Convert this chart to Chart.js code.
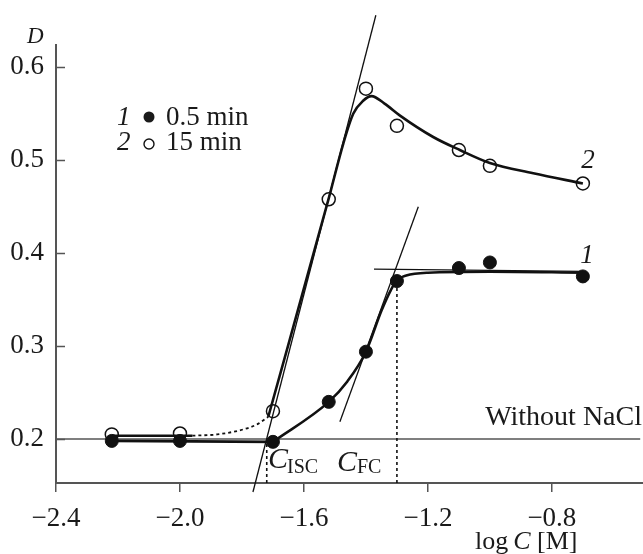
<!DOCTYPE html>
<html>
<head>
<meta charset="utf-8">
<script src="https://cdn.jsdelivr.net/npm/chart.js@4.4.1/dist/chart.umd.min.js"></script>
<style>
    html, body { margin: 0; padding: 0; background: #fff; overflow: hidden; }
    #wrap { width: 643px; height: 554px; position: relative; }
    #grafico { display: block; }
</style>
</head>
<body>
<div id="wrap"><canvas id="grafico"></canvas></div>
<script>
// measured points
const logC = [-2.22, -2.0, -1.7, -1.52, -1.4, -1.3, -1.1, -1.0, -0.7];
const d05min = [0.198, 0.198, 0.197, 0.240, 0.294, 0.370, 0.384, 0.390, 0.375];
const d15min = [0.205, 0.206, 0.230, 0.458, 0.577, 0.537, 0.511, 0.494, 0.475];

// hand drawn curve 1 (0.5 min): flat start, then the rise
const fit1aX = [-2.22, -1.70];
const fit1aY = [0.198, 0.197];
const fit1bX = [-1.70, -1.52, -1.46, -1.40, -1.35, -1.32, -1.30, -1.27, -1.20, -1.0, -0.7];
const fit1bY = [0.197, 0.240, 0.262, 0.294, 0.338, 0.360, 0.371, 0.376, 0.379, 0.380, 0.379];

// hand drawn curve 2 (15 min): solid start, dotted part, main part
const fit2aX = [-2.22, -1.96];
const fit2aY = [0.2036, 0.2036];
const fit2bX = [-1.96, -1.88, -1.80, -1.75, -1.715];
const fit2bY = [0.2036, 0.205, 0.210, 0.216, 0.224];
const fit2cX = [-1.715, -1.52, -1.473, -1.441, -1.409, -1.382, -1.34, -1.29, -1.183, -1.097, -1.0, -0.86, -0.7];
const fit2cY = [0.224, 0.459, 0.518, 0.550, 0.564, 0.569, 0.561, 0.548, 0.525, 0.511, 0.497, 0.486, 0.475];

// tangents and guide lines
const tan1X = [-1.484, -1.231];
const tan1Y = [0.2186, 0.450];
const tan2X = [-1.7645, -1.368];
const tan2Y = [0.143, 0.656];
const platX = [-1.374, -0.70];
const platY = [0.3828, 0.3805];
const baseX = [-2.4, -0.515];
const baseY = [0.2, 0.2];
const iscX = [-1.72, -1.72];
const iscY = [0.1527, 0.197];
const fcX = [-1.30, -1.30];
const fcY = [0.1527, 0.373];

const xTicks = [-2.4, -2.0, -1.6, -1.2, -0.8];
const yTicks = [0.2, 0.3, 0.4, 0.5, 0.6];

const serif = "'Liberation Serif', 'Times New Roman', serif";
const ink = "#111";
const axisGrey = "#555";

function pts(xs, ys) {
    return xs.map((x, i) => ({ x: x, y: ys[i] }));
}

function linea(xs, ys, extra) {
    return Object.assign({
        data: pts(xs, ys),
        showLine: true,
        pointRadius: 0,
        borderColor: ink,
        borderWidth: 1.3,
        fill: false,
        order: 2
    }, extra || {});
}

function texto(ctx, s, x, y, size, italic, align) {
    ctx.font = (italic ? "italic " : "") + size + "px " + serif;
    ctx.textAlign = align || "left";
    ctx.textBaseline = "alphabetic";
    ctx.fillText(s, x, y);
    return ctx.measureText(s).width;
}

const anotaciones = {
    id: "anotaciones",
    afterDraw(chart) {
        const ctx = chart.ctx;
        const y = chart.scales.y;
        ctx.save();

        // inward ticks on the y axis
        ctx.strokeStyle = axisGrey;
        ctx.lineWidth = 1.5;
        ctx.beginPath();
        yTicks.forEach(v => {
            const py = Math.round(y.getPixelForValue(v)) + 0.5;
            ctx.moveTo(y.right, py);
            ctx.lineTo(y.right + 9, py);
        });
        ctx.stroke();

        ctx.fillStyle = "#1a1a1a";
        texto(ctx, "D", 27, 43, 23, true);

        // log C [M]
        let px = 475;
        px += texto(ctx, "log", px, 549, 26, false);
        px += 5;
        px += texto(ctx, "C", px, 549, 26, true);
        texto(ctx, " [M]", px, 549, 26, false);

        texto(ctx, "Without NaCl", 642, 425, 28, false, "right");
        texto(ctx, "1", 587, 263, 27, true, "center");
        texto(ctx, "2", 588, 168, 27, true, "center");

        // C_ISC and C_FC
        texto(ctx, "C", 268, 468, 30, true);
        texto(ctx, "ISC", 287, 473, 20, false);
        texto(ctx, "C", 337, 471, 30, true);
        texto(ctx, "FC", 357, 473, 20, false);

        // legend
        texto(ctx, "1", 117, 125, 27, true);
        texto(ctx, "0.5 min", 166, 125, 27, false);
        texto(ctx, "2", 117, 150, 27, true);
        texto(ctx, "15 min", 166, 150, 27, false);
        ctx.beginPath();
        ctx.arc(149, 117, 5.5, 0, Math.PI * 2);
        ctx.fill();
        ctx.beginPath();
        ctx.arc(149, 144, 5, 0, Math.PI * 2);
        ctx.lineWidth = 1.4;
        ctx.strokeStyle = ink;
        ctx.stroke();

        ctx.restore();
    }
};

new Chart(document.getElementById("grafico"), {
    type: "scatter",
    data: {
        datasets: [
            {
                label: "1  0.5 min",
                data: pts(logC, d05min),
                pointRadius: 6.5,
                pointBackgroundColor: ink,
                pointBorderColor: ink,
                pointBorderWidth: 1,
                showLine: false,
                order: 0
            },
            {
                label: "2  15 min",
                data: pts(logC, d15min),
                pointRadius: 6.5,
                pointBackgroundColor: "rgba(255,255,255,0)",
                pointBorderColor: ink,
                pointBorderWidth: 1.5,
                showLine: false,
                order: 0
            },
            linea(fit1aX, fit1aY, { borderWidth: 2.6 }),
            linea(fit1bX, fit1bY, { borderWidth: 2.6, cubicInterpolationMode: "monotone" }),
            linea(fit2aX, fit2aY, { borderWidth: 2.4 }),
            linea(fit2bX, fit2bY, { borderWidth: 1.8, borderDash: [3, 3], cubicInterpolationMode: "monotone" }),
            linea(fit2cX, fit2cY, { borderWidth: 2.6, cubicInterpolationMode: "monotone" }),
            linea(tan1X, tan1Y),
            linea(tan2X, tan2Y, { clip: false }),
            linea(platX, platY),
            linea(baseX, baseY, { borderColor: axisGrey, borderWidth: 1.6, order: 3 }),
            linea(iscX, iscY, { borderWidth: 1.6, borderDash: [3, 3] }),
            linea(fcX, fcY, { borderWidth: 1.6, borderDash: [3, 3] })
        ]
    },
    options: {
        responsive: true,
        maintainAspectRatio: false,
        animation: false,
        layout: { autoPadding: false, padding: { top: 45, right: 0, left: 0, bottom: 0 } },
        plugins: {
            legend: { display: false },
            tooltip: { enabled: false }
        },
        scales: {
            x: {
                type: "linear",
                min: -2.4,
                max: -0.506,
                afterBuildTicks: s => { s.ticks = xTicks.map(v => ({ value: v })); },
                afterFit: s => { s.height = 71; s.paddingLeft = 0; s.paddingRight = 0; },
                border: { color: axisGrey, width: 2 },
                grid: {
                    drawOnChartArea: false,
                    drawTicks: true,
                    tickLength: 9,
                    color: axisGrey,
                    lineWidth: 1.5
                },
                ticks: {
                    padding: 11,
                    color: "#1a1a1a",
                    font: { family: serif, size: 27 },
                    callback: v => "\u2212" + Math.abs(v).toFixed(1)
                }
            },
            y: {
                min: 0.1527,
                max: 0.624,
                afterBuildTicks: s => { s.ticks = yTicks.map(v => ({ value: v })); },
                afterFit: s => { s.width = 56; s.paddingTop = 0; s.paddingBottom = 0; },
                border: { color: axisGrey, width: 2 },
                grid: { drawOnChartArea: false, drawTicks: false },
                ticks: {
                    padding: 12,
                    color: "#1a1a1a",
                    font: { family: serif, size: 27 },
                    callback: v => v.toFixed(1)
                }
            }
        }
    },
    plugins: [anotaciones]
});
</script>
</body>
</html>
